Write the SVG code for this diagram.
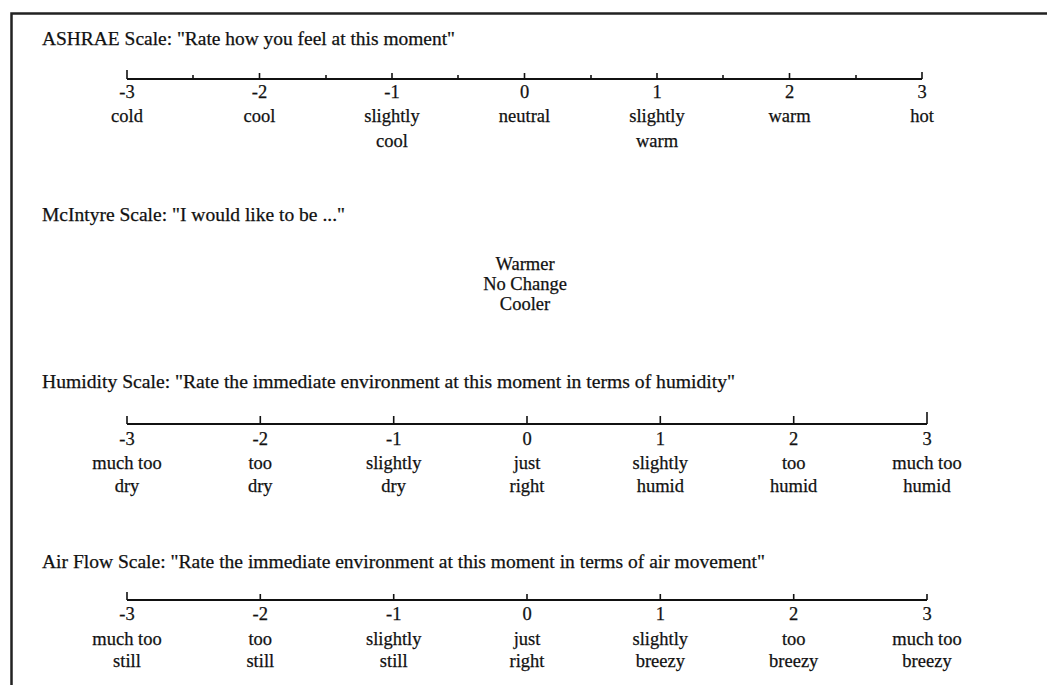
<svg xmlns="http://www.w3.org/2000/svg" width="1047" height="685" viewBox="0 0 1047 685">
<style>
text{font-family:"Liberation Serif","Times New Roman",serif;fill:#111;stroke:#111;stroke-width:0.25;}
.t{font-size:19px;}
.l{font-size:18.5px;text-anchor:middle;}
.ax{stroke:#111;stroke-width:2;fill:none;}
.tk{stroke:#111;stroke-width:1.6;}
</style>
<rect x="0" y="0" width="1047" height="685" fill="#fff"/>
<path d="M11.5,685 V13.5 H1047" stroke="#222" stroke-width="2.5" fill="none"/>

<g id="ashrae">
<text class="t" x="42" y="45" textLength="413" lengthAdjust="spacingAndGlyphs">ASHRAE Scale:  "Rate how you feel at this moment"</text>
<line class="ax" x1="127" y1="79" x2="922" y2="79"/>
<g class="tk">
<line x1="127" y1="70" x2="127" y2="79"/><line x1="259.5" y1="73" x2="259.5" y2="79"/><line x1="392" y1="73" x2="392" y2="79"/><line x1="524.5" y1="73" x2="524.5" y2="79"/><line x1="657" y1="73" x2="657" y2="79"/><line x1="789.5" y1="73" x2="789.5" y2="79"/><line x1="922" y1="72" x2="922" y2="79"/>
<line x1="193" y1="75" x2="193" y2="79"/><line x1="326" y1="75" x2="326" y2="79"/><line x1="458" y1="75" x2="458" y2="79"/><line x1="591" y1="75" x2="591" y2="79"/><line x1="723" y1="75" x2="723" y2="79"/><line x1="856" y1="75" x2="856" y2="79"/>
</g>
<text class="l" x="127" y="98">-3</text><text class="l" x="259.5" y="98">-2</text><text class="l" x="392" y="98">-1</text><text class="l" x="524.5" y="98">0</text><text class="l" x="657" y="98">1</text><text class="l" x="789.5" y="98">2</text><text class="l" x="922" y="98">3</text>
<text class="l" x="127" y="122">cold</text><text class="l" x="259.5" y="122">cool</text><text class="l" x="392" y="122">slightly</text><text class="l" x="524.5" y="122">neutral</text><text class="l" x="657" y="122">slightly</text><text class="l" x="789.5" y="122">warm</text><text class="l" x="922" y="122">hot</text>
<text class="l" x="392" y="147">cool</text><text class="l" x="657" y="147">warm</text>
</g>

<g id="mcintyre">
<text class="t" x="42" y="221" textLength="303" lengthAdjust="spacingAndGlyphs">McIntyre Scale:  "I would like to be ..."</text>
<text class="l" x="525" y="270">Warmer</text>
<text class="l" x="525" y="290">No Change</text>
<text class="l" x="525" y="310">Cooler</text>
</g>

<g id="humidity">
<text class="t" x="42" y="388" textLength="693" lengthAdjust="spacingAndGlyphs">Humidity Scale:  "Rate the immediate environment at this moment in terms of humidity"</text>
<line class="ax" x1="127" y1="424" x2="927" y2="424"/>
<g class="tk">
<line x1="127" y1="416" x2="127" y2="424"/><line x1="260.3" y1="416" x2="260.3" y2="424"/><line x1="393.7" y1="416" x2="393.7" y2="424"/><line x1="527" y1="416" x2="527" y2="424"/><line x1="660.3" y1="416" x2="660.3" y2="424"/><line x1="793.7" y1="416" x2="793.7" y2="424"/><line x1="927" y1="412" x2="927" y2="424"/>
</g>
<text class="l" x="127" y="445">-3</text><text class="l" x="260.3" y="445">-2</text><text class="l" x="393.7" y="445">-1</text><text class="l" x="527" y="445">0</text><text class="l" x="660.3" y="445">1</text><text class="l" x="793.7" y="445">2</text><text class="l" x="927" y="445">3</text>
<text class="l" x="127" y="469">much too</text><text class="l" x="260.3" y="469">too</text><text class="l" x="393.7" y="469">slightly</text><text class="l" x="527" y="469">just</text><text class="l" x="660.3" y="469">slightly</text><text class="l" x="793.7" y="469">too</text><text class="l" x="927" y="469">much too</text>
<text class="l" x="127" y="492">dry</text><text class="l" x="260.3" y="492">dry</text><text class="l" x="393.7" y="492">dry</text><text class="l" x="527" y="492">right</text><text class="l" x="660.3" y="492">humid</text><text class="l" x="793.7" y="492">humid</text><text class="l" x="927" y="492">humid</text>
</g>

<g id="airflow">
<text class="t" x="42" y="568" textLength="723" lengthAdjust="spacingAndGlyphs">Air Flow Scale:  "Rate the immediate environment at this moment in terms of air movement"</text>
<line class="ax" x1="127" y1="600" x2="927" y2="600"/>
<g class="tk">
<line x1="127" y1="592" x2="127" y2="600"/><line x1="260.3" y1="594" x2="260.3" y2="600"/><line x1="393.7" y1="594" x2="393.7" y2="600"/><line x1="527" y1="594" x2="527" y2="600"/><line x1="660.3" y1="594" x2="660.3" y2="600"/><line x1="793.7" y1="594" x2="793.7" y2="600"/><line x1="927" y1="594" x2="927" y2="600"/>
</g>
<text class="l" x="127" y="620">-3</text><text class="l" x="260.3" y="620">-2</text><text class="l" x="393.7" y="620">-1</text><text class="l" x="527" y="620">0</text><text class="l" x="660.3" y="620">1</text><text class="l" x="793.7" y="620">2</text><text class="l" x="927" y="620">3</text>
<text class="l" x="127" y="645">much too</text><text class="l" x="260.3" y="645">too</text><text class="l" x="393.7" y="645">slightly</text><text class="l" x="527" y="645">just</text><text class="l" x="660.3" y="645">slightly</text><text class="l" x="793.7" y="645">too</text><text class="l" x="927" y="645">much too</text>
<text class="l" x="127" y="667">still</text><text class="l" x="260.3" y="667">still</text><text class="l" x="393.7" y="667">still</text><text class="l" x="527" y="667">right</text><text class="l" x="660.3" y="667">breezy</text><text class="l" x="793.7" y="667">breezy</text><text class="l" x="927" y="667">breezy</text>
</g>
</svg>
